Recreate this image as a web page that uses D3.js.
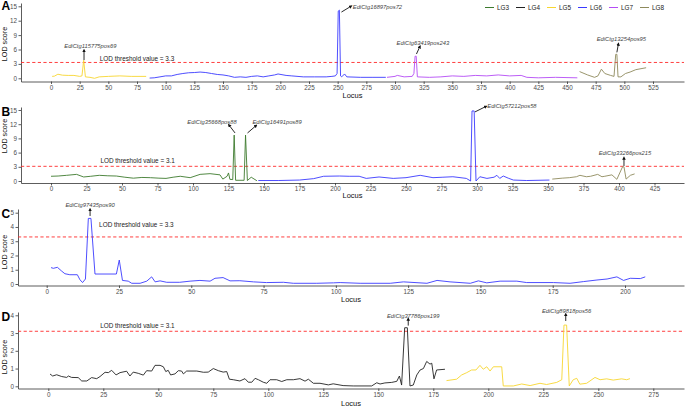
<!DOCTYPE html>
<html>
<head>
<meta charset="utf-8">
<script src="https://cdn.jsdelivr.net/npm/d3@7"></script>
<style>
  body { margin: 0; background: #fff; }
  svg { font-family: "Liberation Sans", Arial, sans-serif; }
</style>
</head>
<body>
<script>
// LOD traces, [locus, LOD score]
var a_lg5 = [[1,0.4],[3,0.45],[6,0.85],[10,0.65],[15,0.6],[20,0.6],[25,0.4],[27,0.5],[28.5,3.75],[30,0.3],[34,0.2],[38,0.0],[42,0.3],[50,0.4],[60,0.5],[70,0.4],[83,0.4]];
var a_lg6 = [[86,0.05],[90,0.1],[95,0.3],[100,0.5],[105,0.5],[110,0.8],[115,1.0],[120,1.15],[125,1.2],[130,1.3],[135,1.2],[140,1.0],[145,0.8],[150,0.7],[155,0.5],[160,0.2],[165,0.3],[170,0.2],[175,0.4],[180,0.5],[185,0.3],[190,0.5],[195,0.7],[198,0.9],[205,0.6],[210,0.5],[220,0.3],[230,0.3],[240,0.3],[245,0.4],[248,0.5],[249.5,1.0],[250.5,14.0],[251.5,14.2],[252.5,0.5],[253.5,0.3],[256,0.9],[258,0.3],[270,0.2],[280,0.2],[292,0.2]];
var a_lg7 = [[293,0.2],[300,0.4],[302,0.6],[308,0.3],[315,0.4],[316.5,1],[317.5,4.6],[318.5,4.6],[319.5,0.3],[330,0.2],[340,0.3],[350,0.5],[360,0.4],[370,0.6],[380,0.5],[390,0.7],[400,0.5],[410,0.6],[415,0.2],[425,0.1],[440,0.2],[459,0.1]];
var a_lg8 = [[461,1.4],[468,0.7],[474,0.2],[477,0.5],[480,1.9],[483,1.0],[488,0.6],[491,0.4],[492.5,5.0],[493.5,5.0],[494.5,0.3],[497,0.3],[501,1.0],[505,1.3],[510,1.8],[519,2.2]];

var b_lg3 = [[0,1.0],[5,1.05],[11,1.2],[18,1.4],[23,0.85],[28,1.0],[34,1.2],[40,1.1],[46,1.05],[52,0.8],[58,0.6],[64,0.75],[70,0.7],[76,0.6],[81,0.55],[86,0.8],[91,1.0],[98,0.7],[105,1.4],[112,1.55],[119,1.3],[121,0.4],[124,1.0],[125,1.7],[126,0.35],[128,0.3],[129,9.7],[130,0.15],[136,0.15],[137,9.7],[138.3,0.1],[141,0.8],[145,0.05]];
var b_lg6 = [[146,0.1],[160,0.1],[175,0.2],[185,0.5],[192,1.0],[203,1.05],[210,1.0],[217,1.0],[222,0.55],[231,0.85],[241,0.55],[250,0.7],[260,1.2],[269,0.7],[276,0.8],[283,0.9],[292.5,0.55],[295.5,0.0],[296.5,14.8],[298,14.8],[299.3,0.0],[302,0.9],[307,0.55],[312,0.8],[314,1.2],[316,0.55],[318.5,1.05],[322,0.6],[325.6,0.2],[335,0.1],[351,0.2]];
var b_lg8 = [[353,0.4],[360,0.6],[365,0.7],[370,0.9],[372.5,1.2],[377,0.9],[380,1.0],[385,1.4],[388,0.9],[390,1.0],[395,1.3],[398.5,0.35],[402.5,3.0],[403.5,3.0],[405,0.4],[408,1.2],[411,1.5]];

var c_lg6 = [[1.5,1.15],[2.3,1.1],[3.7,1.17],[5.2,0.9],[6.3,0.72],[8,0.65],[10.6,0.65],[11.5,0.3],[12.4,0.1],[13.4,0.35],[14.4,4.6],[15.3,4.6],[16.7,0.7],[24.1,0.7],[25.1,1.68],[26.2,0.25],[28.2,0.2],[29.4,0.05],[32.3,0.05],[34.6,0.2],[36.3,0.5],[37.5,0.15],[39.2,0.22],[41.5,0.12],[46,0.12],[49.6,0.2],[53,0.25],[56.5,0.2],[58.2,0.4],[61,0.45],[63.4,0.22],[66.8,0.23],[71.5,0.15],[76,0.1],[81.9,0.12],[85.3,0.05],[93.4,0.05],[99.2,0.08],[101.5,0.1],[108.4,0.05],[118.8,0.05],[123.4,0.15],[131.5,0.05],[135,0.25],[139.5,0.15],[146.5,0.05],[149.3,0.22],[152.2,0.08],[156.8,0.2],[162.6,0.2],[166,0.1],[175.3,0.1],[181,0.05],[185.7,0.17],[190.3,0.28],[193.8,0.35],[197.2,0.5],[199.5,0.25],[201.8,0.4],[205.3,0.38],[207,0.5]];

var d_lg4 = [[0.8,0.69],[2,0.58],[3.8,0.65],[6.1,0.55],[8.4,0.5],[9.1,0.58],[10.6,0.5],[13.6,0.49],[15.2,0.3],[17.5,0.3],[19.7,0.49],[22,0.43],[23.5,0.55],[25.8,0.79],[27.3,0.77],[28.8,0.9],[30.8,0.64],[32.6,0.77],[35.6,0.85],[37.1,0.58],[38.6,0.8],[40.9,0.73],[43.2,0.63],[44.7,0.88],[47,0.86],[48.5,1.18],[50.8,1.18],[52.3,1.1],[53.4,0.83],[54.5,0.9],[55.6,0.64],[57.6,0.7],[59.1,0.88],[60.6,0.86],[61.4,0.7],[62.9,0.86],[67.5,0.86],[70.5,0.79],[72.7,0.8],[75,1.0],[77.3,0.88],[79.5,0.8],[81.1,0.83],[82.3,0.4],[84.1,0.37],[87.1,0.3],[89.4,0.43],[90.9,0.23],[92.5,0.23],[94,0.45],[95.5,0.37],[97.7,0.23],[99.3,0.17],[100.8,0.37],[103.8,0.37],[106.1,0.27],[108.4,0.37],[111.4,0.37],[114.4,0.43],[116.7,0.29],[118.2,0.4],[120.5,0.17],[123.5,0.17],[127.3,0.08],[129.5,0.14],[134,0.04],[138.6,0.02],[147,0.02],[149.3,0.2],[150.8,0.13],[153,0.19],[156.1,0.22],[158.4,0.28],[159.6,0.58],[160.6,0.07],[162,3.3],[163.2,3.3],[164.4,0.02],[165.9,0.07],[167.5,0.64],[169,0.92],[170.5,1.0],[172,1.4],[173.5,1.25],[174.3,1.3],[175.3,0.42],[176.5,0.92],[180.3,0.96]];
var d_lg5 = [[181,0.32],[185.6,0.4],[187.9,0.64],[190.2,0.77],[192.4,0.92],[194.4,0.92],[196.2,1.18],[197.7,0.96],[199.3,1.1],[200.8,0.86],[202.3,1.1],[206.1,1.1],[206.8,0.02],[211.4,0.02],[215.2,0.13],[219,0.04],[223.5,0.17],[226.5,0.1],[231.1,0.22],[233.4,0.37],[234.4,3.45],[235.6,3.45],[236.8,0.02],[238.6,0.37],[240.2,0.45],[241.6,0.12],[244.7,0.17],[248.5,0.5],[250.8,0.37],[253.8,0.42],[256.8,0.35],[260.6,0.42],[262.9,0.37],[264.4,0.43]];

// linkage groups & thresholds
var groups = ["LG3", "LG4", "LG5", "LG6", "LG7", "LG8"];
var groupColors = ["#3d7a2e", "#222222", "#f7d630", "#3a3aff", "#b44cf5", "#8e8a5c"];
var thresholds = [3.3, 3.1, 3.3, 3.1];

// peak labels: [label, peak locus, peak lod, arrow-head locus, arrow-head lod, text locus, text lod]
var notesA = [["EdiCtg115775pos69", 28.8, 3.8, 28.8, 5.8, 34.3, 6.25],
              ["EdiCtg16897pos72", 253.3, 13.8, 261.6, 15.0, 284.7, 14.4],
              ["EdiCtg63419pos243", 318.7, 5.06, 321.7, 6.6, 324.3, 6.94],
              ["EdiCtg13254pos95", 493.5, 5.4, 494.8, 7.15, 497.4, 7.67]];
var notesB = [["EdiCtg35668pos88", 129.6, 10.15, 125.4, 11.8, 113.4, 12.05],
              ["EdiCtg16491pos89", 138.4, 10.15, 144.4, 11.7, 159.2, 12.05],
              ["EdiCtg57212pos58", 298.6, 14.6, 306.3, 15.75, 324.6, 15.4],
              ["EdiCtg33266pos215", 403.5, 3.17, 403.5, 4.86, 404.2, 5.5]];
var notesC = [["EdiCtg97435pos90", 15, 4.77, 15, 5.22, 15, 5.4]];
var notesD = [["EdiCtg37786pos199", 163.6, 3.42, 163.6, 3.79, 165.9, 3.85],
              ["EdiCtg89818pos56", 235.2, 3.68, 235.2, 4.05, 235.6, 4.13]];

var W = 685, H = 407;
var svg = d3.select("body").append("svg").attr("width", W).attr("height", H);

svg.append("defs").append("marker")
  .attr("id", "arrow")
  .attr("viewBox", "0 0 10 10")
  .attr("refX", 5).attr("refY", 5)
  .attr("markerWidth", 4).attr("markerHeight", 4)
  .attr("orient", "auto-start-reverse")
  .append("path").attr("d", "M0,0L10,5L0,10z").attr("fill", "#111");

var colorOf = d3.scaleOrdinal().domain(groups).range(groupColors);

// layout of the four panels (pixels)
var panels = [
  {tag: "A", series: [["LG5", a_lg5], ["LG6", a_lg6], ["LG7", a_lg7], ["LG8", a_lg8]], notes: notesA,
   left: 21, right: 684, top: 3, bottom: 81.5, x0: 51, xTick: 525, xTickPx: 653, y0: 78.3, yTick: 15, yTickPx: 6.3,
   yStep: 3, thrText: [75, 3.65], titleY: 44, letterY: 10, locusY: 98},
  {tag: "B", series: [["LG3", b_lg3], ["LG6", b_lg6], ["LG8", b_lg8]], notes: notesB,
   left: 21, right: 684, top: 107, bottom: 183, x0: 51, xTick: 425, xTickPx: 654.5, y0: 181, yTick: 15, yTickPx: 110,
   yStep: 3, thrText: [61, 3.7], titleY: 136, letterY: 115.5, locusY: 198},
  {tag: "C", series: [["LG6", c_lg6]], notes: notesC,
   left: 18, right: 684, top: 209, bottom: 285.5, x0: 46.7, xTick: 200, xTickPx: 625, y0: 284, yTick: 5, yTickPx: 212.7,
   yStep: 1, thrText: [31, 4.03], titleY: 252, letterY: 218, locusY: 302},
  {tag: "D", series: [["LG4", d_lg4], ["LG5", d_lg5]], notes: notesD,
   left: 18, right: 684, top: 312, bottom: 388.5, x0: 48.3, xTick: 275, xTickPx: 653.3, y0: 386.3, yTick: 4, yTickPx: 315.3,
   yStep: 1, thrText: [40.5, 3.31], titleY: 357, letterY: 321, locusY: 406}
];

function styleAxis(sel) {
  sel.attr("color", "#333");
  sel.selectAll("path, line").attr("stroke", "#333").attr("stroke-width", 0.8);
  sel.selectAll("text").attr("fill", "#4d4d4d").attr("font-size", 6.3)
    .attr("font-family", "Liberation Sans, Arial, sans-serif");
}

panels.forEach(function (p, i) {
  // anchor the scales on two known ticks, then stretch them to the panel edges
  var x = d3.scaleLinear().domain([0, p.xTick]).range([p.x0, p.xTickPx]);
  x.domain([x.invert(p.left), x.invert(p.right)]).range([p.left, p.right]);
  var y = d3.scaleLinear().domain([0, p.yTick]).range([p.y0, p.yTickPx]);
  y.domain([y.invert(p.bottom), y.invert(p.top)]).range([p.bottom, p.top]);

  var g = svg.append("g");

  g.append("g")
    .attr("transform", "translate(0," + p.bottom + ")")
    .call(d3.axisBottom(x).tickValues(d3.range(0, p.xTick + 1, 25)).tickFormat(d3.format("d"))
      .tickSize(2.5).tickSizeOuter(0).tickPadding(1.5))
    .call(styleAxis);
  g.append("g")
    .attr("transform", "translate(" + p.left + ",0)")
    .call(d3.axisLeft(y).tickValues(d3.range(0, p.yTick + 0.01, p.yStep)).tickFormat(d3.format("d"))
      .tickSize(2.5).tickSizeOuter(0).tickPadding(1.5))
    .call(styleAxis);

  // threshold
  g.append("line")
    .attr("x1", p.left).attr("x2", p.right)
    .attr("y1", y(thresholds[i])).attr("y2", y(thresholds[i]))
    .attr("stroke", "#ff2a2a").attr("stroke-width", 0.9).attr("stroke-dasharray", "3.2,2.4");
  g.append("text")
    .attr("x", x(p.thrText[0])).attr("y", y(p.thrText[1]))
    .attr("text-anchor", "middle").attr("font-size", 6.4).attr("fill", "#222")
    .text("LOD threshold value = " + thresholds[i]);

  var line = d3.line().x(function (d) { return x(d[0]); }).y(function (d) { return y(d[1]); });
  p.series.forEach(function (s) {
    g.append("path").datum(s[1])
      .attr("d", line)
      .attr("fill", "none")
      .attr("stroke", colorOf(s[0]))
      .attr("stroke-width", 0.9)
      .attr("stroke-linejoin", "round");
  });

  p.notes.forEach(function (n) {
    g.append("line")
      .attr("x1", x(n[1])).attr("y1", y(n[2]))
      .attr("x2", x(n[3])).attr("y2", y(n[4]))
      .attr("stroke", "#111").attr("stroke-width", 0.9)
      .attr("marker-end", "url(#arrow)");
    g.append("text")
      .attr("x", x(n[5])).attr("y", y(n[6]))
      .attr("text-anchor", "middle")
      .attr("font-size", 5.8).attr("font-style", "italic").attr("fill", "#444")
      .text(n[0]);
  });

  // titles
  g.append("text")
    .attr("transform", "translate(7," + p.titleY + ") rotate(-90)")
    .attr("text-anchor", "middle").attr("font-size", 7.2).attr("fill", "#111")
    .text("LOD score");
  g.append("text")
    .attr("x", (p.left + p.right) / 2).attr("y", p.locusY)
    .attr("text-anchor", "middle").attr("font-size", 7.5).attr("fill", "#111")
    .text("Locus");
  g.append("text")
    .attr("x", 1.5).attr("y", p.letterY)
    .attr("font-size", 12).attr("font-weight", "bold").attr("fill", "#000")
    .text(p.tag);
});

// legend (top right of panel A)
var legend = svg.append("g").attr("transform", "translate(485,7.5)");
groups.forEach(function (gname, k) {
  var item = legend.append("g").attr("transform", "translate(" + (k * 31) + ",0)");
  item.append("line").attr("x1", 0).attr("x2", 9).attr("y1", 0).attr("y2", 0)
    .attr("stroke", colorOf(gname)).attr("stroke-width", 1);
  item.append("text").attr("x", 12).attr("y", 2.2)
    .attr("font-size", 6.4).attr("fill", "#222").text(gname);
});
</script>
</body>
</html>
